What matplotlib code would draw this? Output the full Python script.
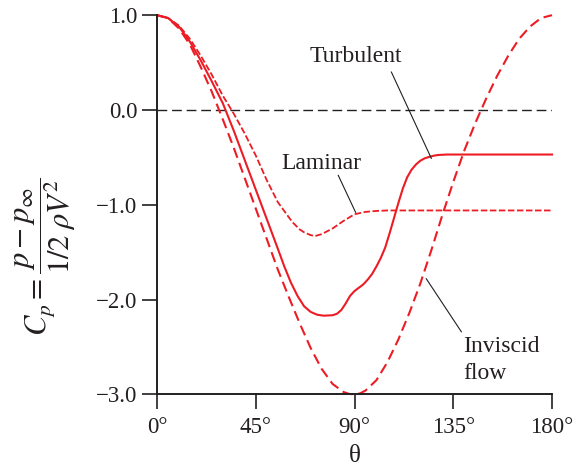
import numpy as np
import matplotlib
matplotlib.use("Agg")
import matplotlib.pyplot as plt

# ---------------- data ----------------
theta_inv = [0, 5, 10, 15, 20, 25, 30, 35, 40, 45, 50, 55, 60, 65, 70, 75, 80, 85,
             87.5, 90, 92.5, 95, 100, 105, 110, 115, 120, 125, 130, 135, 140, 145,
             150, 155, 160, 165, 170, 175, 180]
cp_inv = [1.00, 0.97, 0.86, 0.69, 0.45, 0.19, -0.10, -0.40, -0.72, -1.04, -1.36,
          -1.68, -1.97, -2.25, -2.51, -2.73, -2.89, -2.975, -2.995, -3.00, -2.99,
          -2.96, -2.85, -2.66, -2.42, -2.14, -1.83, -1.48, -1.11, -0.76, -0.43,
          -0.14, 0.12, 0.36, 0.57, 0.75, 0.88, 0.97, 1.00]

theta_turb = [0, 5, 10, 15, 20, 25, 30, 35, 40, 45, 50, 55, 58, 61, 64, 67, 70, 73,
              76, 80, 82, 84, 86, 88, 90, 92, 94, 96, 98, 100, 102, 104, 106, 108,
              110, 112, 114, 116, 118, 120, 122, 124, 126, 128, 132, 180]
cp_turb = [1.00, 0.97, 0.88, 0.72, 0.52, 0.30, 0.07, -0.22, -0.53, -0.84, -1.15,
           -1.46, -1.65, -1.82, -1.96, -2.07, -2.13, -2.16, -2.17, -2.165, -2.15,
           -2.11, -2.04, -1.96, -1.91, -1.875, -1.84, -1.79, -1.73, -1.65, -1.56,
           -1.45, -1.30, -1.14, -0.98, -0.83, -0.71, -0.63, -0.575, -0.535, -0.51,
           -0.495, -0.483, -0.475, -0.47, -0.47]

theta_lam = [0, 5, 10, 15, 20, 25, 30, 35, 40, 45, 50, 55, 60, 62, 65, 67, 70, 72,
             75, 80, 85, 90, 95, 100, 105, 180]
cp_lam = [1.00, 0.97, 0.89, 0.75, 0.57, 0.37, 0.15, -0.04, -0.25, -0.48, -0.74,
          -0.97, -1.13, -1.19, -1.26, -1.29, -1.32, -1.33, -1.31, -1.25, -1.17,
          -1.10, -1.075, -1.065, -1.06, -1.06]

yticks = [1.0, 0.0, -1.0, -2.0, -3.0]
xticks = [0, 45, 90, 135, 180]

red = '#ED1C24'
ink = '#231F20'

plt.rcParams['font.family'] = ['Liberation Serif', 'DejaVu Serif']
plt.rcParams['mathtext.fontset'] = 'stix'

fig = plt.figure(figsize=(5.85, 4.70), dpi=100)
ax = fig.add_axes([0.2684, 0.1609, 0.6752, 0.8068])

# zero line
ax.plot([0, 180], [0, 0], color=ink, lw=1.0, dashes=(7, 3.5))

ax.plot(theta_inv, cp_inv, color=red, lw=1.5, dashes=(5.0, 2.6), clip_on=False)
ax.plot(theta_turb, cp_turb, color=red, lw=1.5, clip_on=False)
ax.plot(theta_lam, cp_lam, color=red, lw=1.3, dashes=(3.6, 1.4), clip_on=False)

ax.set_xlim(0, 180)
ax.set_ylim(-3, 1)
ax.set_xticks(xticks)
ax.set_xticklabels([f'{t}°' for t in xticks])
ax.set_yticks(yticks)
ax.set_yticklabels([f'{v:.1f}'.replace('-', '\u2212') for v in yticks])

for s in ['top', 'right']:
    ax.spines[s].set_visible(False)
for s in ['left', 'bottom']:
    ax.spines[s].set_linewidth(1.4)
    ax.spines[s].set_color(ink)
ax.tick_params(direction='out', length=11, width=1.2, colors=ink,
               labelsize=16.5)
ax.tick_params(axis='x', pad=5)
ax.tick_params(axis='y', pad=3)

ax.set_xlabel('θ', fontsize=18, color=ink, labelpad=5)
fig.text(0.077, 0.453, r'$C_p = \dfrac{p - p_\infty}{1/2\;\rho V^2}$',
         rotation=90, ha='center', va='center', fontsize=22, color=ink)

# annotations
ax.text(90.5, 0.56, 'Turbulent', fontsize=17, color=ink, ha='center', va='center')
ax.plot([106.8, 125.0], [0.40, -0.51], color=ink, lw=0.8)

ax.text(74.9, -0.56, 'Laminar', fontsize=17, color=ink, ha='center', va='center')
ax.plot([82.6, 90.5], [-0.69, -1.08], color=ink, lw=0.8)

ax.text(139.4, -2.64, 'Inviscid\nflow', fontsize=17, color=ink, ha='left',
        va='center', linespacing=1.4)
ax.plot([122.7, 138.7], [-1.78, -2.34], color=ink, lw=0.8)

fig.savefig('out.png', dpi=100)
